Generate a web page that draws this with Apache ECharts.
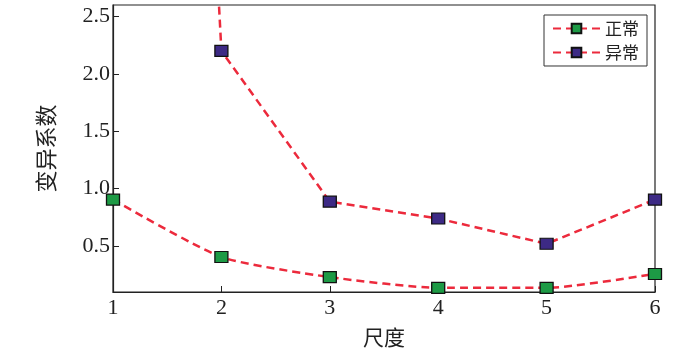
<!DOCTYPE html>
<html>
<head>
<meta charset="utf-8">
<script src="https://cdn.jsdelivr.net/npm/echarts@6/dist/echarts.min.js"></script>
<style>
  html, body { margin: 0; padding: 0; background: #fff; }
  #graph { width: 700px; height: 353px; }
</style>
</head>
<body>
<div id="graph"></div>
<script>
// 尺度
const scales = [1, 2, 3, 4, 5, 6];
// 变异系数
const normalVals = [0.905, 0.405, 0.23, 0.136, 0.136, 0.257];
const abnormalVals = [20, 2.2, 0.887, 0.74, 0.52, 0.905];
const yTicks = [0.5, 1.0, 1.5, 2.0, 2.5];

const toPairs = (vals) => scales.map((s, i) => [s, vals[i]]);

const serif = 'Liberation Serif, Times New Roman, serif';
const cjk = 'Noto Sans CJK SC';

const chart = echarts.init(document.getElementById('graph'));
const lineRed = '#ec2a3c';

chart.setOption({
  backgroundColor: '#fff',
  animation: false,
  grid: { left: 113, right: 45, top: 5, bottom: 58, show: true, borderColor: '#222', borderWidth: 1.2 },
  legend: {
    right: 53,
    top: 15,
    orient: 'vertical',
    itemWidth: 47,
    itemHeight: 12,
    itemGap: 7,
    padding: [5, 8, 5, 8],
    borderColor: '#333',
    borderWidth: 1,
    textStyle: { fontFamily: cjk, fontSize: 17, color: '#222' },
    data: ['正常', '异常']
  },
  xAxis: {
    type: 'value',
    min: 1,
    max: 6,
    interval: 1,
    name: '尺度',
    nameLocation: 'middle',
    nameGap: 35,
    nameTextStyle: { fontFamily: cjk, fontSize: 21, color: '#222' },
    axisLine: { show: true, lineStyle: { color: '#222', width: 1.2 } },
    axisTick: { inside: true, length: 6, lineStyle: { color: '#222' } },
    axisLabel: { fontFamily: serif, fontSize: 22, color: '#222', margin: 5 },
    splitLine: { show: false }
  },
  yAxis: {
    type: 'value',
    min: 0.1,
    max: 2.6,
    name: '变异系数',
    nameLocation: 'middle',
    nameGap: 56,
    nameTextStyle: { fontFamily: cjk, fontSize: 22, color: '#222' },
    axisLine: { show: true, lineStyle: { color: '#222', width: 1.2 } },
    axisTick: { inside: true, length: 6, customValues: yTicks, lineStyle: { color: '#222' } },
    axisLabel: {
      fontFamily: serif, fontSize: 22, color: '#222', margin: 3,
      customValues: yTicks,
      formatter: (v) => v.toFixed(1)
    },
    splitLine: { show: false }
  },
  series: [
    {
      name: '正常',
      type: 'line',
      data: toPairs(normalVals),
      smooth: 0.2,
      clip: true,
      symbol: 'rect',
      symbolSize: [13, 11],
      itemStyle: { color: '#1d9a45', borderColor: '#111', borderWidth: 1.2 },
      lineStyle: { color: lineRed, width: 2.5, type: [8, 5] }
    },
    {
      name: '异常',
      type: 'line',
      data: toPairs(abnormalVals),
      smooth: false,
      clip: true,
      symbol: 'rect',
      symbolSize: [13, 11],
      itemStyle: { color: '#3d2a85', borderColor: '#111', borderWidth: 1.2 },
      lineStyle: { color: lineRed, width: 2.5, type: [8, 5] }
    }
  ]
});
</script>
</body>
</html>
